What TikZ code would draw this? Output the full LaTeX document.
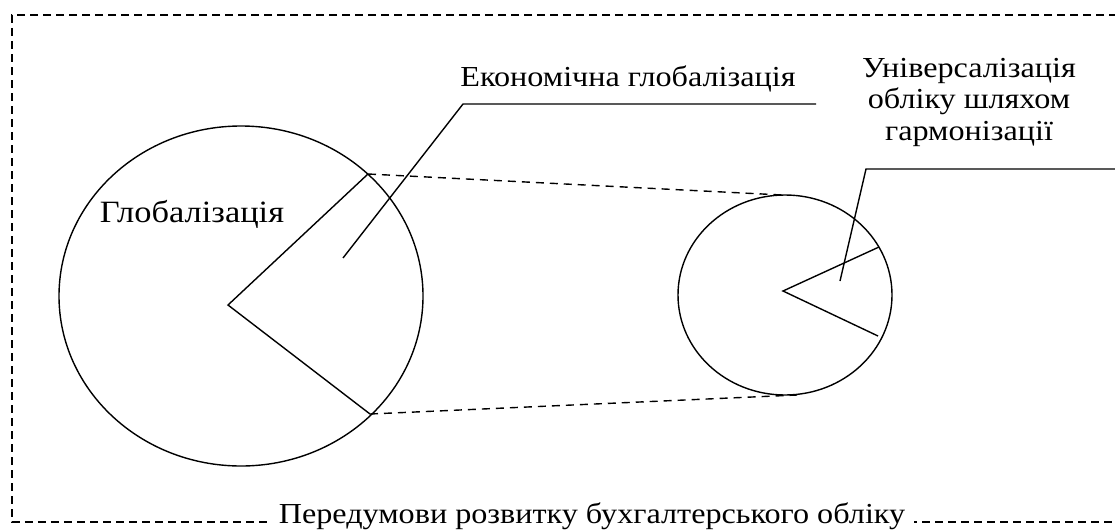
\documentclass[tikz,border=0pt]{standalone}
\usepackage{fontspec}
\setmainfont{Liberation Serif}
\newfontfamily\lblfont[FakeStretch=1.11]{Liberation Serif}
\usetikzlibrary{shapes.geometric}
\begin{document}
\begin{tikzpicture}[x=1pt,y=-1pt,
  frame/.style={line width=1.5pt,dash pattern=on 8pt off 5pt},
  zoomline/.style={line width=1.4pt,dash pattern=on 8pt off 6pt},
  solidline/.style={line width=1.4pt},
  lbl/.style={font=\lblfont\fontsize{29}{31.5}\selectfont,inner sep=0pt,anchor=base},
  lblframe/.style={font=\lblfont\fontsize{29}{31.5}\selectfont,inner xsep=9pt,inner ysep=3pt,fill=white,anchor=base}]
\useasboundingbox (0,0) rectangle (1115,530);
% frame
\coordinate (ftr) at (1130,15);
\coordinate (ftl) at (12,15);
\coordinate (fbl) at (12,522);
\coordinate (fbr) at (1130,522);
\draw[frame] (ftr) -- (ftl) -- (fbl) -- (fbr);
\node[lblframe] (pre) at (592,523) {Передумови розвитку бухгалтерського обліку};
% big ellipse
\node[draw,solidline,ellipse,minimum width=364pt,minimum height=340pt,inner sep=0pt] (big) at (241,296) {};
\coordinate (bc) at (228,305);
\coordinate (b1) at (368,174);
\coordinate (b2) at (370,414);
\draw[solidline] (b1) -- (bc) -- (b2);
% small ellipse
\node[draw,solidline,ellipse,minimum width=214pt,minimum height=200pt,inner sep=0pt] (small) at (785,295) {};
\coordinate (sc) at (783,291);
\coordinate (s1) at (879,247);
\coordinate (s2) at (878,336);
\draw[solidline] (s1) -- (sc) -- (s2);
% zoom lines
\coordinate (st) at (782,195);
\coordinate (sb) at (797,395);
\draw[zoomline] (b1) -- (st);
\draw[zoomline] (b2) -- (sb);
% labels
\node[lbl,font=\lblfont\fontsize{31}{31.5}\selectfont] (glob) at (192,222) {Глобалізація};
\node[lbl] (econ) at (628,86) {Економічна глобалізація};
\node[lbl] (univ1) at (969,77) {Універсалізація};
\node[lbl] (univ2) at (969,108) {обліку шляхом};
\node[lbl] (univ3) at (969,140) {гармонізації};
% leaders
\coordinate (e0) at (343,258);
\coordinate (e1) at (463,104);
\coordinate (e2) at (816,104);
\draw[solidline] (e0) -- (e1) -- (e2);
\coordinate (u0) at (840,281);
\coordinate (u1) at (866,169);
\coordinate (u2) at (1115,169);
\draw[solidline] (u0) -- (u1) -- (u2);
\end{tikzpicture}
\end{document}
